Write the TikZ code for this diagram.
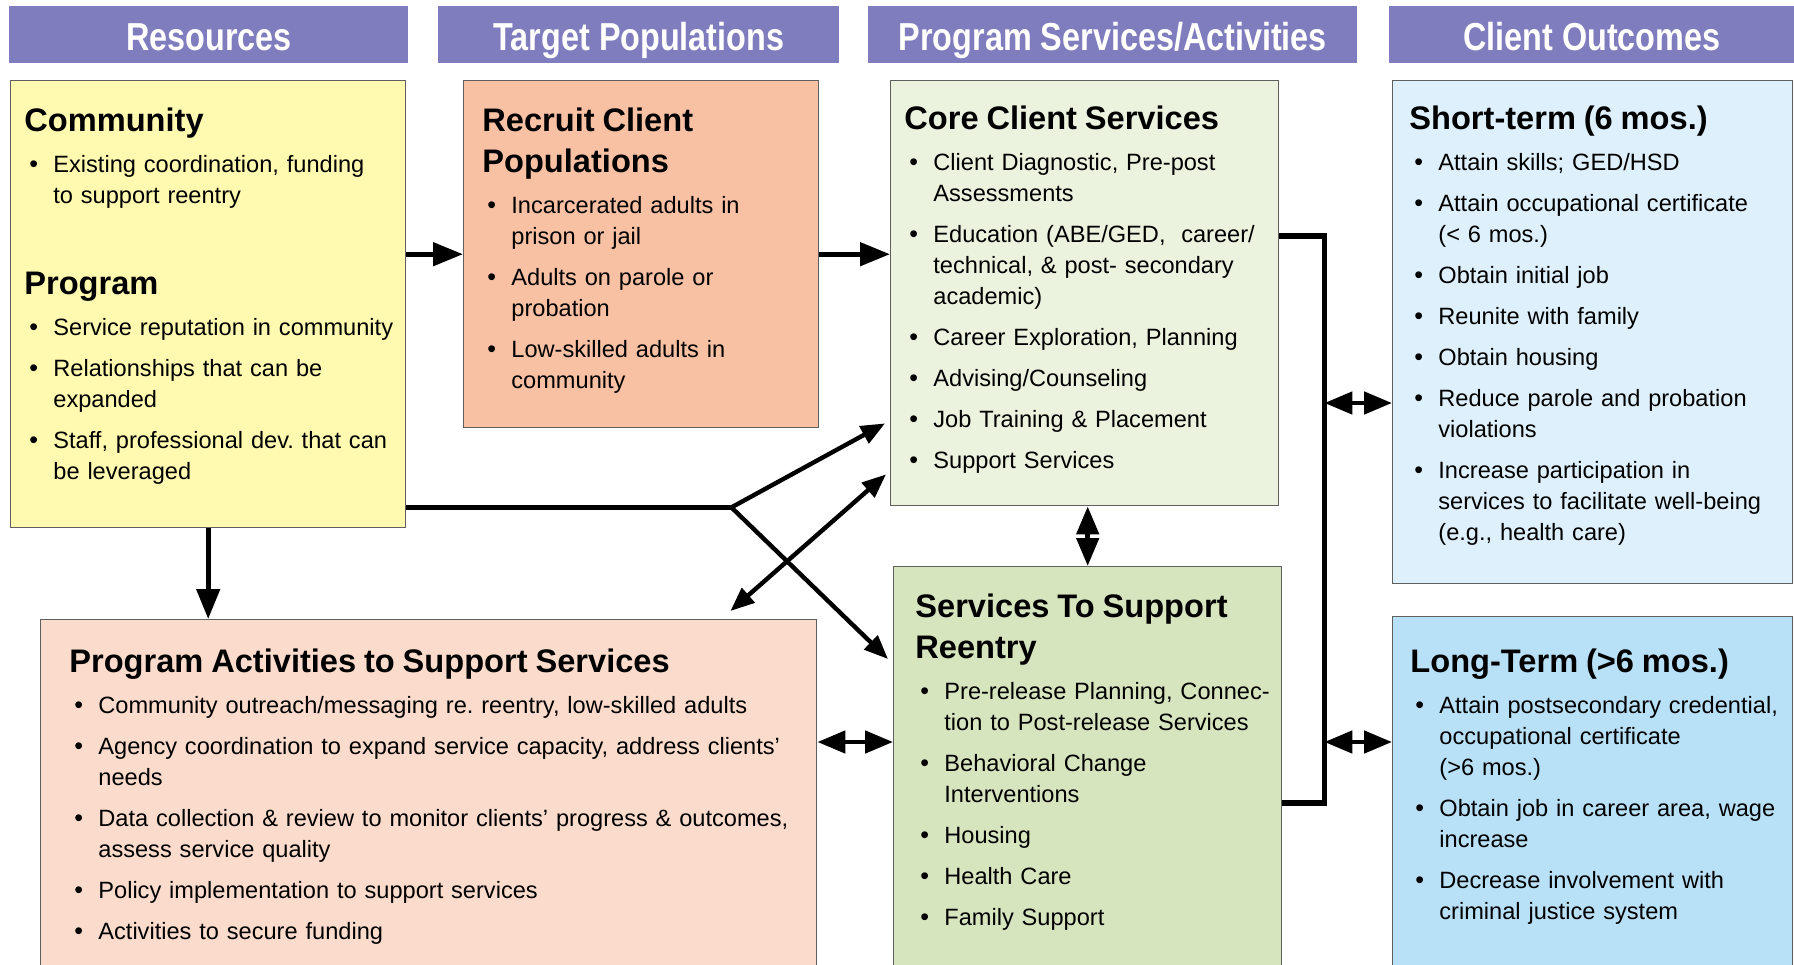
\documentclass[tikz,border=0pt]{standalone}
\usepackage{fontspec}
\setmainfont{Liberation Sans}
\newfontfamily\bandfont{Liberation Sans}[FakeStretch=0.83]
\usetikzlibrary{arrows.meta,calc,positioning}
\definecolor{BandPurple}{RGB}{128,125,190}
\definecolor{ResYellow}{RGB}{255,250,176}
\definecolor{RecSalmon}{RGB}{248,193,164}
\definecolor{CoreGreen}{RGB}{235,242,222}
\definecolor{ReenGreen}{RGB}{215,229,190}
\definecolor{ShortBlue}{RGB}{222,240,251}
\definecolor{LongBlue}{RGB}{184,224,247}
\definecolor{ActPeach}{RGB}{251,220,204}
\definecolor{EdgeGray}{RGB}{95,95,95}
\frenchspacing
% box headings and bullet lines
\newcommand{\boxhead}[1]{{\fontsize{16.3}{20.5}\selectfont\bfseries\rule{0pt}{12pt}#1\par}}
\newcommand{\bitem}[1]{\par\vspace{5pt}\noindent\hangindent=14.5pt\hangafter=1\makebox[14.5pt][l]{\hspace{2.5pt}{\fontsize{12.5}{12}\selectfont\textbullet}}#1\par}

\begin{document}
\begin{tikzpicture}[x=0.5pt,y=-0.5pt,
    band/.style={anchor=north west,fill=BandPurple,inner sep=0pt,minimum height=28.5pt,text height=17pt,text depth=1.5pt,text=white,font=\bandfont\bfseries\fontsize{19.5}{20}\selectfont},
    panel/.style={anchor=north west,draw=EdgeGray,line width=0.7pt,inner sep=0pt},
    copy/.style={anchor=north west,inner sep=0pt,align=left,font=\fontsize{11.8}{15.5}\selectfont},
    link/.style={line width=2.4pt,-{Triangle[length=15pt,width=11.5pt]}},
    twoway/.style={line width=2.4pt,{Triangle[length=14pt,width=11pt]}-{Triangle[length=14pt,width=11pt]}},
    slant/.style={line width=2.2pt,line cap=round,-{Triangle[length=12pt,width=9.5pt]}},
    rail/.style={line width=2.6pt}]
  \useasboundingbox (0,0) rectangle (1794,964);
  \clip (0,0) rectangle (1794,964);

  % column bands
  \node[band,minimum width=199.5pt] (hRes) at (9,6) {Resources};
  \node[band,minimum width=200.5pt] (hTgt) at (438,6) {Target Populations};
  \node[band,minimum width=244.5pt] (hSvc) at (868,6) {Program Services/Activities};
  \node[band,minimum width=202.5pt] (hOut) at (1389,6) {Client Outcomes};

  % boxes
  \node[panel,fill=ResYellow,minimum width=197.5pt,minimum height=223.5pt] (res) at (10,80) {};
  \node[panel,fill=RecSalmon,minimum width=177.5pt,minimum height=173.5pt] (rec) at (463,80) {};
  \node[panel,fill=CoreGreen,minimum width=194pt,minimum height=212.5pt] (core) at (890,80) {};
  \node[panel,fill=ShortBlue,minimum width=200pt,minimum height=251.5pt] (short) at (1392,80) {};
  \node[panel,fill=ActPeach,minimum width=388pt,minimum height=180pt] (act) at (40,619) {};
  \node[panel,fill=ReenGreen,minimum width=194pt,minimum height=205pt] (reen) at (893,566) {};
  \node[panel,fill=LongBlue,minimum width=200pt,minimum height=180pt] (long) at (1392,616) {};

  % box texts
  \node[copy,text width=188pt] (resTxt) at ($(res.north west)+(14,27)$) {%
    \boxhead{Community}
    \bitem{Existing coordination, funding\newline to support reentry}
    \par\vspace{25pt}\boxhead{Program}
    \bitem{Service reputation in community}
    \bitem{Relationships that can be\newline expanded}
    \bitem{Staff, professional dev. that can\newline be leveraged}};
  \node[copy,text width=165pt] (recTxt) at ($(rec.north west)+(19,27)$) {%
    \boxhead{Recruit Client\newline Populations}
    \bitem{Incarcerated adults in\newline prison or jail}
    \bitem{Adults on parole or\newline probation}
    \bitem{Low-skilled adults in\newline community}};
  \node[copy,text width=185pt] (coreTxt) at ($(core.north west)+(14,25)$) {%
    \boxhead{Core Client Services}
    \bitem{Client Diagnostic, Pre-post\newline Assessments}
    \bitem{Education (ABE/GED,~ career/\newline technical, \& post- secondary\newline academic)}
    \bitem{Career Exploration, Planning}
    \bitem{Advising/Counseling}
    \bitem{Job Training \& Placement}
    \bitem{Support Services}};
  \node[copy,text width=190pt] (shortTxt) at ($(short.north west)+(17,25)$) {%
    \boxhead{Short-term (6 mos.)}
    \bitem{Attain skills; GED/HSD}
    \bitem{Attain occupational certificate\newline (< 6 mos.)}
    \bitem{Obtain initial job}
    \bitem{Reunite with family}
    \bitem{Obtain housing}
    \bitem{Reduce parole and probation\newline violations}
    \bitem{Increase participation in\newline services to facilitate well-being\newline (e.g., health care)}};
  \node[copy,text width=370pt] (actTxt) at ($(act.north west)+(29,29)$) {%
    \boxhead{Program Activities to Support Services}
    \bitem{Community outreach/messaging re. reentry, low-skilled adults}
    \bitem{Agency coordination to expand service capacity, address clients'\newline needs}
    \bitem{Data collection \& review to monitor clients' progress \& outcomes,\newline assess service quality}
    \bitem{Policy implementation to support services}
    \bitem{Activities to secure funding}};
  \node[copy,text width=182pt] (reenTxt) at ($(reen.north west)+(22,27)$) {%
    \boxhead{Services To Support\newline Reentry}
    \bitem{Pre-release Planning, Connec-\newline tion to Post-release Services}
    \bitem{Behavioral Change\newline Interventions}
    \bitem{Housing}
    \bitem{Health Care}
    \bitem{Family Support}};
  \node[copy,text width=190pt] (longTxt) at ($(long.north west)+(18,32)$) {%
    \boxhead{Long-Term (>6 mos.)}
    \bitem{Attain postsecondary credential,\newline occupational certificate\newline (>6 mos.)}
    \bitem{Obtain job in career area, wage\newline increase}
    \bitem{Decrease involvement with\newline criminal justice system}};

  % straight links
  \draw[link] (res.east |- rec.west) -- (rec.west);
  \draw[link] (rec.east) -- (rec.east -| core.west);
  \draw[link] (res.south) -- (res.south |- act.north);

  % fork out of the resources box
  \coordinate (fork) at ($(res.south east)+(325,-21)$);
  \coordinate (coreIn) at ($(core.south west)+(-5,-83)$);
  \coordinate (reenIn) at ($(reen.north west)+(-5,93)$);
  \draw[rail] (fork -| res.east) -- (fork);
  \draw[slant] (fork) -- (coreIn);
  \draw[slant] (fork) -- (reenIn);
  \draw[slant,{Triangle[length=12pt,width=9.5pt]}-{Triangle[length=12pt,width=9.5pt]}] ($(act.north east)+(-87,-8)$) -- ($(core.south west)+(-4,-32)$);

  % two-way links between services
  \coordinate (actPort) at ($(act.north east)+(0,123)$);
  \draw[twoway] (actPort) -- (actPort -| reen.west);
  \draw[twoway] (reen.north |- core.south) -- (reen.north);

  % rail to the outcomes
  \coordinate (spine) at ($(core.north east)+(45,156)$);
  \coordinate (toShort) at ($(short.north west)+(0,323)$);
  \coordinate (toLong) at ($(long.north west)+(0,126)$);
  \draw[rail] ($(core.north east)+(0,156)$) -- (spine) |- ($(reen.north east)+(0,237)$);
  \draw[twoway] (spine |- toShort) -- (toShort);
  \draw[twoway] (spine |- toLong) -- (toLong);
\end{tikzpicture}
\end{document}
